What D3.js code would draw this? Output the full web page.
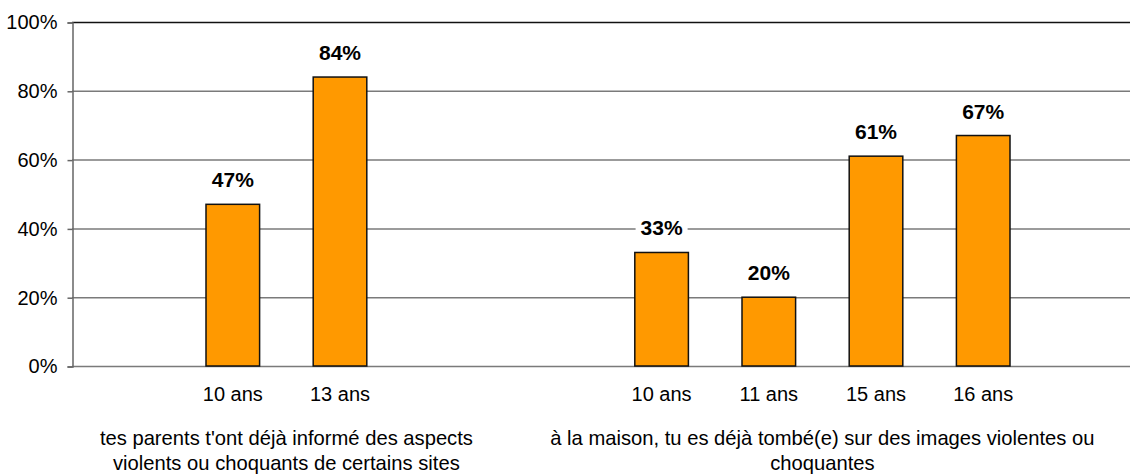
<!DOCTYPE html>
<html>
<head>
<meta charset="utf-8">
<script src="https://cdn.jsdelivr.net/npm/d3@7"></script>
<style>
  body { margin: 0; background: #fff; }
  text { font-family: "Liberation Sans", Arial, sans-serif; }
</style>
</head>
<body>
<div id="chart"></div>
<script>
// question groups (two lines each)
var groupLabels = [
    ["tes parents t'ont déjà informé des aspects", "violents ou choquants de certains sites"],
    ["à la maison, tu es déjà tombé(e) sur des images violentes ou", "choquantes"]
];
var ages1 = ["10 ans", "13 ans"];
var values1 = [47, 84];
var ages2 = ["10 ans", "11 ans", "15 ans", "16 ans"];
var values2 = [33, 20, 61, 67];
var yTicks = [0, 20, 40, 60, 80, 100];

function init() {
    var w = 1130;
    var h = 474;

    var svg = d3.select("#chart")
            .append("svg")
            .attr("width", w)
            .attr("height", h);

    // one list of bars, with empty slots between the two groups
    var bars = [];
    ages1.forEach(function(a, i) { bars.push({key: "g0|" + a, group: 0, age: a, value: values1[i]}); });
    ages2.forEach(function(a, i) { bars.push({key: "g1|" + a, group: 1, age: a, value: values2[i]}); });

    var slots = ["_a"].concat(bars.filter(function(d) { return d.group == 0; }).map(function(d) { return d.key; }))
                      .concat(["_b", "_c"])
                      .concat(bars.filter(function(d) { return d.group == 1; }).map(function(d) { return d.key; }))
                      .concat(["_d"]);

    var x = d3.scaleBand()
            .domain(slots)
            .range([72, 1144])
            .paddingInner(0.5)
            .paddingOuter(0.25);

    var y = d3.scaleLinear()
            .domain([0, 100])
            .range([366, 22]);

    // gridlines
    svg.selectAll("line.grid")
        .data(yTicks)
        .enter()
        .append("line")
        .attr("x1", 72)
        .attr("x2", w)
        .attr("y1", function(d) { return y(d) + 0.5; })
        .attr("y2", function(d) { return y(d) + 0.5; })
        .attr("stroke", function(d) { return d == 100 ? "#111" : "#7a7a7a"; })
        .attr("stroke-width", 1.5);

    // y axis
    var yAxis = d3.axisLeft(y)
            .tickValues(yTicks)
            .tickSize(5)
            .tickPadding(10)
            .tickFormat(function(d) { return d + "%"; });

    var gy = svg.append("g")
            .attr("transform", "translate(72.5,0.5)")
            .call(yAxis);
    gy.select(".domain").attr("stroke", "#666").attr("stroke-width", 1.5);
    gy.selectAll(".tick line").attr("stroke", "#666").attr("stroke-width", 1.5);
    gy.selectAll(".tick text")
        .attr("font-family", "Liberation Sans, Arial, sans-serif")
        .attr("font-size", 20)
        .attr("fill", "#000");

    // bars
    svg.selectAll("rect.bar")
        .data(bars)
        .enter()
        .append("rect")
        .attr("class", "bar")
        .attr("x", function(d) { return x(d.key); })
        .attr("y", function(d) { return y(d.value); })
        .attr("width", x.bandwidth())
        .attr("height", function(d) { return y(0) - y(d.value); })
        .style("fill", "#FF9900")
        .style("stroke", "#111")
        .style("stroke-width", 1.5);

    // value labels with white box behind
    var lab = svg.selectAll("g.lab")
        .data(bars)
        .enter()
        .append("g")
        .attr("transform", function(d) {
            return "translate(" + (x(d.key) + x.bandwidth() / 2) + "," + (y(d.value) - 17) + ")";
        });
    lab.append("rect")
        .attr("x", -26)
        .attr("y", -18)
        .attr("width", 52)
        .attr("height", 23)
        .attr("fill", "#fff");
    lab.append("text")
        .attr("text-anchor", "middle")
        .attr("font-size", 21)
        .attr("font-weight", "bold")
        .text(function(d) { return d.value + "%"; });

    // age labels
    svg.selectAll("text.age")
        .data(bars)
        .enter()
        .append("text")
        .attr("x", function(d) { return x(d.key) + x.bandwidth() / 2; })
        .attr("y", 401)
        .attr("text-anchor", "middle")
        .attr("font-size", 20)
        .text(function(d) { return d.age; });

    // group labels, centred under their bars
    groupLabels.forEach(function(lines, g) {
        var gb = bars.filter(function(d) { return d.group == g; });
        var cx = (x(gb[0].key) + x(gb[gb.length - 1].key) + x.bandwidth()) / 2;
        var t = svg.append("text")
            .attr("text-anchor", "middle")
            .attr("font-size", 20.2);
        lines.forEach(function(line, i) {
            t.append("tspan")
                .attr("x", cx)
                .attr("y", 445 + i * 25)
                .text(line);
        });
    });
}

window.onload = init;
</script>
</body>
</html>
